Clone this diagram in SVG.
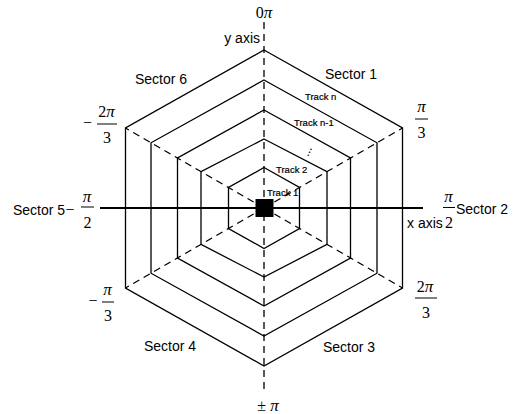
<svg xmlns="http://www.w3.org/2000/svg" width="517" height="414" viewBox="0 0 517 414">
<style>
.hex{fill:none;stroke:#000;stroke-width:1.3}
.dash{fill:none;stroke:#000;stroke-width:1.3;stroke-dasharray:7 5}
.axis{stroke:#000;stroke-width:1.8}
.bar{stroke:#000;stroke-width:1}
.lbl{font-family:"Liberation Sans",Arial,sans-serif;font-size:14px;fill:#000}
.trk{font-family:"Liberation Sans",Arial,sans-serif;font-size:9.5px;fill:#000;stroke:#000;stroke-width:0.2}
.mth{font-family:"Liberation Serif","Times New Roman",serif;font-size:16px;fill:#000;text-anchor:middle}
.pi{font-style:italic;font-size:17px}
</style>
<rect width="517" height="414" fill="#fff"/>
<g id="connectors">
<line class="dash" x1="264" y1="22" x2="264" y2="393"/>
<line class="dash" x1="264" y1="208" x2="402.5" y2="128"/>
<line class="dash" x1="264" y1="208" x2="402.5" y2="288"/>
<line class="dash" x1="264" y1="208" x2="125.5" y2="288"/>
<line class="dash" x1="264" y1="208" x2="125.5" y2="128"/>
<line class="axis" x1="100" y1="208" x2="423" y2="208"/>
</g>
<g id="track1"><polygon class="hex" points="264,167.5 299.5,187.5 299.5,228.5 264,248.5 228.5,228.5 228.5,187.5"/>
<text class="trk" x="267" y="196">Track 1</text></g>
<g id="track2"><polygon class="hex" points="264,139 327,171.6 327,244.4 264,277 201,244.4 201,171.6"/>
<text class="trk" x="276" y="173">Track 2</text></g>
<g id="track3"><polygon class="hex" points="264,110 350.5,158 350.5,258 264,306 177.5,258 177.5,158"/>
<text class="trk" x="0" y="0" transform="translate(304,153) rotate(25)">⋮</text></g>
<g id="trackn1"><polygon class="hex" points="264,80 377,142.8 377,273.2 264,336 151,273.2 151,142.8"/>
<text class="trk" x="294" y="126">Track n-1</text></g>
<g id="trackn"><polygon class="hex" points="264,50 402.5,128 402.5,288 264,366 125.5,288 125.5,128"/>
<text class="trk" x="305" y="100">Track n</text></g>
<g id="center"><rect x="255.5" y="199" width="18" height="18" fill="#000"/></g>
<g id="labels">
<text class="lbl" x="325" y="79">Sector 1</text>
<text class="lbl" x="135" y="84">Sector 6</text>
<text class="lbl" x="13" y="215">Sector 5</text>
<text class="lbl" x="456" y="214">Sector 2</text>
<text class="lbl" x="144" y="351">Sector 4</text>
<text class="lbl" x="323" y="352">Sector 3</text>
<text class="lbl" x="260" y="43" text-anchor="end">y axis</text>
<text class="lbl" x="407" y="228">x axis</text>
</g>
<g id="angles">
<text class="mth" x="264" y="18">0<tspan class="pi">π</tspan></text>
<text class="mth" x="268" y="411">± <tspan class="pi">π</tspan></text>
<text class="mth pi" x="421.5" y="112">π</text><line class="bar" x1="415" y1="119" x2="428" y2="119"/><text class="mth" x="421.5" y="138">3</text>
<text class="mth pi" x="448.5" y="202">π</text><line class="bar" x1="443" y1="207.5" x2="455" y2="207.5"/><text class="mth" x="449" y="228">2</text>
<text class="mth" x="70" y="215">−</text><text class="mth pi" x="87" y="202">π</text><line class="bar" x1="81" y1="207" x2="94" y2="207"/><text class="mth" x="87.5" y="228">2</text>
<text class="mth" x="87.5" y="128">−</text><text class="mth" x="106.5" y="117">2<tspan class="pi">π</tspan></text><line class="bar" x1="97" y1="124" x2="117" y2="124"/><text class="mth" x="107" y="143">3</text>
<text class="mth" x="93" y="306">−</text><text class="mth pi" x="107.5" y="295">π</text><line class="bar" x1="102" y1="302" x2="114" y2="302"/><text class="mth" x="108" y="321">3</text>
<text class="mth" x="425" y="292">2<tspan class="pi">π</tspan></text><line class="bar" x1="415" y1="298" x2="437" y2="298"/><text class="mth" x="426" y="318">3</text>
</g>
</svg>
